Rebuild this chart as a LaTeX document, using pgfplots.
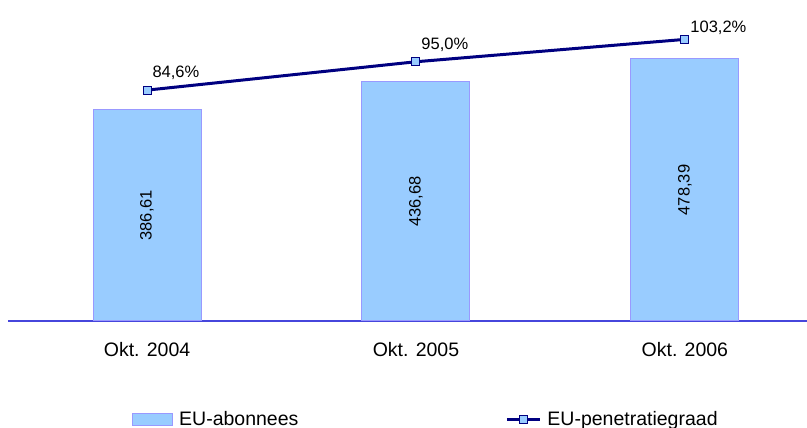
\documentclass[border=0pt]{standalone}
\usepackage{pgfplots}
\pgfplotsset{compat=1.18}
\usepackage{fontspec}
\setmainfont{Liberation Sans}
\definecolor{barfill}{RGB}{153,204,255}
\definecolor{baredge}{RGB}{153,153,255}
\definecolor{navyline}{RGB}{0,0,128}
\definecolor{axblue}{RGB}{70,70,220}
\pgfplotsset{
 barlegend/.style={legend image code/.code={\draw[##1] (0pt,-6pt) rectangle (40pt,6pt);}},
 linelegend/.style={legend image code/.code={\draw[mark repeat=2,mark phase=2,##1] plot coordinates {(0pt,0pt) (16.5pt,0pt) (33pt,0pt)};}},
}
\begin{document}
\begin{tikzpicture}
\path[use as bounding box] (0,0) rectangle (807pt,428pt);
\begin{axis}[
 scale only axis, width=799pt, height=301pt,
 at={(8pt,107pt)}, anchor=south west,
 xmin=-0.517, xmax=2.454, ymin=0, ymax=549.6,
 axis x line*=bottom, axis y line=none,
 x axis line style={draw=axblue, line width=1.2pt, -},
 xtick={0,1,2}, xticklabels={Okt. 2004, Okt. 2005, Okt. 2006},
 major tick length=0pt,
 xticklabel style={font=\fontsize{19.5}{22}\selectfont, inner sep=0pt, yshift=-21pt},
 ybar, bar width=108pt,
 clip=false,
]
\addplot[ybar, fill=barfill, draw=baredge, line width=1pt,
 visualization depends on={rawy \as \rawy},
 nodes near coords={\pgfmathprintnumber[fixed, fixed zerofill, precision=2, use comma, assume math mode=true]{\pgfplotspointmeta}},
 nodes near coords style={font=\fontsize{16.5}{18}\selectfont, text=black, shift={(axis direction cs:0,-\rawy/2)}, rotate=90, anchor=center},
] coordinates {(0,386.61) (1,436.68) (2,478.39)};
\end{axis}
\begin{axis}[
 scale only axis, width=799pt, height=301pt,
 at={(8pt,107pt)}, anchor=south west,
 xmin=-0.517, xmax=2.454, ymin=0, ymax=110.3,
 hide x axis, hide y axis, clip=false,
 legend columns=2,
 legend style={draw=none, fill=none, at={(0.1552,-0.3256)}, anchor=west,
   font=\fontsize{19.5}{22}\selectfont, inner sep=0pt,
   /tikz/every odd column/.append style={column sep=4pt},
   /tikz/every even column/.append style={column sep=205pt}},
]
\addlegendimage{barlegend, fill=barfill, draw=baredge, line width=1pt}
\addlegendentry{EU-abonnees}
\addplot[navyline, line width=3pt, mark=square*, mark size=4pt,
 mark options={fill=barfill, draw=navyline, line width=1pt, solid},
 linelegend,
 visualization depends on={\thisrow{dy} \as \dy},
 nodes near coords={\pgfmathprintnumber[fixed, fixed zerofill, precision=1, use comma, assume math mode=true]{\pgfplotspointmeta}\%},
 nodes near coords style={font=\fontsize{16.5}{18}\selectfont, text=black, anchor=base west, inner sep=0pt, xshift=5pt, yshift=\dy pt},
] table[row sep=\\] {x y dy\\ 0 84.6 13\\ 1 95.0 12\\ 2 103.2 7\\};
\addlegendentry{EU-penetratiegraad}
\end{axis}
\end{tikzpicture}
\end{document}
